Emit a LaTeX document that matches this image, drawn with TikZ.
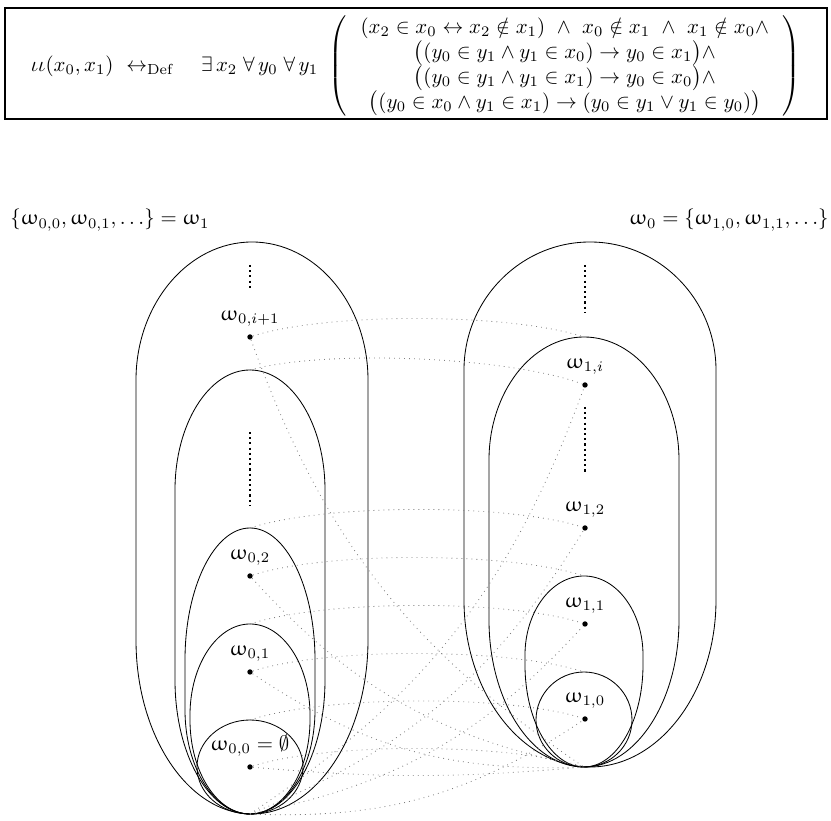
\documentclass[tikz,border=0pt]{standalone}
\usepackage{amsmath,amssymb}
\usepackage{upgreek}
\usetikzlibrary{positioning}

\begin{document}
\begin{tikzpicture}[x=0.48pt,y=0.48pt,
  pt/.style={circle,fill,inner sep=0pt,minimum size=2.6pt},
  link/.style={gray,dotted},
  toparc/.style={link,bend left=18,looseness=0.6},
  lowarc/.style={link,bend right=18},
  vdots/.style={line width=1pt,dash pattern=on 1pt off 1.5pt}]
\useasboundingbox (0,0) rectangle (831,-821);
% the definition
\draw[line width=1pt] (5,-8) rectangle (827,-119);
\node (defn) at (416,-66)
 {\delimitershortfall=12pt
  $\iota\iota(x_0,x_1)\ \leftrightarrow_{\mathrm{Def}}\quad
  \exists\,x_2\;\forall\,y_0\;\forall\,y_1\ \left(\,\begin{array}{c}
  (x_2\in x_0\leftrightarrow x_2\notin x_1)\ \wedge\ x_0\notin x_1\ \wedge\ x_1\notin x_0\wedge\\
  \bigl((y_0\in y_1\wedge y_1\in x_0)\to y_0\in x_1\bigr)\wedge\\
  \bigl((y_0\in y_1\wedge y_1\in x_1)\to y_0\in x_0\bigr)\wedge\\
  \bigl((y_0\in x_0\wedge y_1\in x_1)\to(y_0\in y_1\vee y_1\in y_0)\bigr)
  \end{array}\,\right)$};
\node[anchor=base west,inner sep=0pt] (w1) at (10,-225) {$\{\upomega_{0,0},\upomega_{0,1},\ldots\}=\upomega_1$};
\node[anchor=base east,inner sep=0pt] (w0) at (829,-225) {$\upomega_0=\{\upomega_{1,0},\upomega_{1,1},\ldots\}$};

% nested sets, all touching at the bottom
\foreach \c/\w/\t/\ya/\yb/\b in {250/53/-720/-767/-767/-814, 250/60/-624/-715/-720/-814,
  250/65/-528/-660/-710/-814, 250/75/-370/-490/-680/-814, 252/116/-242/-380/-640/-814,
  584/48/-672/-720/-720/-767, 584/59/-576/-655/-665/-767, 584/95/-337/-460/-620/-767,
  590/126/-242/-370/-600/-767}
  \draw (\c,\b) .. controls ({\c-0.55*\w},\b) and ({\c-\w},{\yb-0.55*(\yb-\b)}) .. ({\c-\w},\yb)
    -- ({\c-\w},\ya) .. controls ({\c-\w},{\ya+0.55*(\t-\ya)}) and ({\c-0.55*\w},\t) .. (\c,\t)
    .. controls ({\c+0.55*\w},\t) and ({\c+\w},{\ya+0.55*(\t-\ya)}) .. ({\c+\w},\ya)
    -- ({\c+\w},\yb) .. controls ({\c+\w},{\yb-0.55*(\yb-\b)}) and ({\c+0.55*\w},\b) .. (\c,\b);

\coordinate (L0t) at (250,-720); \coordinate (L1t) at (250,-624);
\coordinate (L2t) at (250,-528); \coordinate (L3t) at (250,-370);
\coordinate (B0) at (250,-814);
\coordinate (R0t) at (584,-672); \coordinate (R1t) at (584,-576);
\coordinate (R2t) at (584,-337); \coordinate (B1) at (584,-767);

\node[pt] (a0) at (250,-767) {}; \node[pt] (a1) at (250,-672) {};
\node[pt] (a2) at (250,-576) {}; \node[pt] (ai) at (250,-337) {};
\node[pt] (b0) at (585,-719) {}; \node[pt] (b1) at (585,-624) {};
\node[pt] (b2) at (585,-528) {}; \node[pt] (bi) at (585,-385) {};
\node[above=0pt of a0] (la0) {$\upomega_{0,0}=\emptyset$};
\node[above=0pt of a1] (la1) {$\upomega_{0,1}$};
\node[above=0pt of a2] (la2) {$\upomega_{0,2}$};
\node[above=0pt of ai] (lai) {$\upomega_{0,i+1}$};
\node[above=0pt of b0] (lb0) {$\upomega_{1,0}$};
\node[above=0pt of b1] (lb1) {$\upomega_{1,1}$};
\node[above=0pt of b2] (lb2) {$\upomega_{1,2}$};
\node[above=0pt of bi] (lbi) {$\upomega_{1,i}$};

\draw[vdots] (250,-265) -- (250,-290); \draw[vdots] (250,-432) -- (250,-505);
\draw[vdots] (585,-265) -- (585,-313); \draw[vdots] (585,-407) -- (585,-472);

% each element joined to its set on the other side
\draw[toparc] (a0) to (B1); \draw[lowarc] (a0) to[bend right=5] (B1);
\foreach \p/\q in {a1/R0t,a2/R1t,ai/R2t,L0t/b0,L1t/b1,L2t/b2,L3t/bi}
  \draw[toparc] (\p) to (\q);
\foreach \p/\q in {a1/B1,a2/B1,ai/B1,B0/b0,B0/b1,B0/b2,B0/bi}
  \draw[lowarc] (\p) to (\q);
\end{tikzpicture}
\end{document}
